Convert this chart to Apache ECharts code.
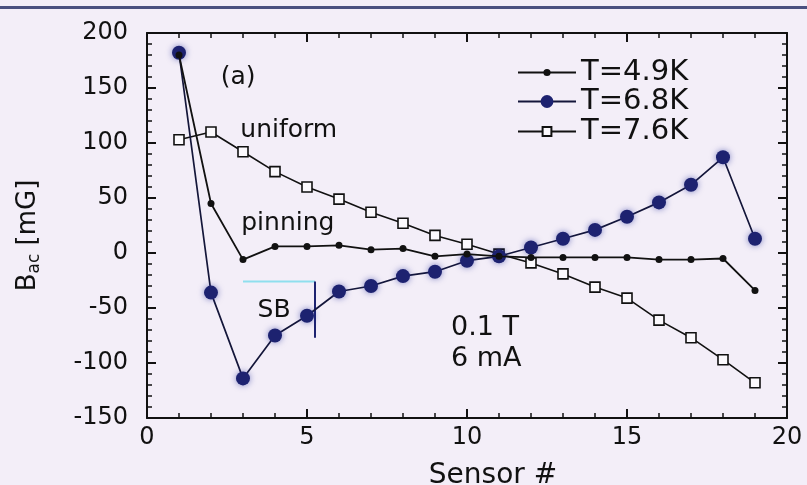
<!DOCTYPE html>
<html>
<head>
<meta charset="utf-8">
<script src="https://cdn.jsdelivr.net/npm/echarts@6/dist/echarts.min.js"></script>
<style>
  html, body { margin: 0; padding: 0; background: #f3eef8; }
  #chart { width: 807px; height: 485px; }
</style>
</head>
<body>
<div id="chart"></div>
<script>
// Sensor index along the sample
const sensors = [1, 2, 3, 4, 5, 6, 7, 8, 9, 10, 11, 12, 13, 14, 15, 16, 17, 18, 19];
// AC field profiles B_ac (mG) at three temperatures
const b49 = [180, 45, -6, 6, 6, 7, 3, 4, -3, -1, -3, -4, -4, -4, -4, -6, -6, -5, -34];
const b68 = [182, -36, -114, -75, -57, -35, -30, -21, -17, -7, -3, 5, 13, 21, 33, 46, 62, 87, 13];
const b76 = [103, 110, 92, 74, 60, 49, 37, 27, 16, 8, -1, -9, -19, -31, -41, -61, -77, -97, -118];
const seriesNames = ['T=4.9K', 'T=6.8K', 'T=7.6K'];
const yTicks = [-150, -100, -50, 0, 50, 100, 150, 200];
const xTicks = [0, 5, 10, 15, 20];

const pairs = ys => sensors.map((s, i) => [s, ys[i]]);
const FONT = 'DejaVu Sans';
const INK = '#111';

const chart = echarts.init(document.getElementById('chart'), null, { renderer: 'canvas' });

const axisCommon = {
  type: 'value',
  axisLine: { show: true, onZero: false, lineStyle: { color: INK, width: 2 } },
  axisTick: { show: true, inside: true, length: 9, lineStyle: { color: INK, width: 2 } },
  minorTick: { show: true, length: 5, lineStyle: { color: INK, width: 1.5 } },
  splitLine: { show: false }
};

// one legend block per series so each keeps its own marker size
const legendRow = (name, top, itemHeight) => ({
  data: [name],
  left: 517,
  top: top,
  padding: 0,
  itemWidth: 58,
  itemHeight: itemHeight,
  itemGap: 0,
  textStyle: { fontFamily: FONT, fontSize: 29, color: INK, lineHeight: 28 }
});

const option = {
  backgroundColor: '#f3eef8',
  animation: false,
  textStyle: { fontFamily: FONT },
  grid: { left: 147, right: 20, top: 33, bottom: 67, containLabel: false, outerBoundsMode: 'none' },
  legend: [
    legendRow(seriesNames[0], 58, 9),
    legendRow(seriesNames[1], 87, 16),
    legendRow(seriesNames[2], 117, 11)
  ],
  xAxis: [
    Object.assign({}, axisCommon, {
      position: 'bottom', min: xTicks[0], max: xTicks[xTicks.length - 1], interval: 5,
      minorTick: Object.assign({}, axisCommon.minorTick, { splitNumber: 5 }),
      axisLabel: { color: INK, fontSize: 24, fontFamily: FONT, margin: 8 },
      name: 'Sensor #', nameLocation: 'middle', nameGap: 44,
      nameTextStyle: { color: INK, fontSize: 28, fontFamily: FONT, padding: [0, 0, 0, 52] }
    }),
    Object.assign({}, axisCommon, {
      position: 'top', min: xTicks[0], max: xTicks[xTicks.length - 1], interval: 5,
      minorTick: Object.assign({}, axisCommon.minorTick, { splitNumber: 5 }),
      axisLabel: { show: false }
    })
  ],
  yAxis: [
    Object.assign({}, axisCommon, {
      position: 'left', min: yTicks[0], max: yTicks[yTicks.length - 1], interval: 50,
      minorTick: Object.assign({}, axisCommon.minorTick, { splitNumber: 5 }),
      axisLabel: { color: INK, fontSize: 24, fontFamily: FONT, margin: 19 },
      name: 'B{sub|ac} [mG]', nameLocation: 'middle', nameGap: 104, nameRotate: 90,
      nameTextStyle: {
        color: INK, fontSize: 26, fontFamily: FONT, padding: [0, 20, 0, 0],
        rich: { sub: { fontSize: 17, fontFamily: FONT, color: INK, verticalAlign: 'bottom', padding: [12, 0, 0, 0] } }
      }
    }),
    Object.assign({}, axisCommon, {
      position: 'right', min: yTicks[0], max: yTicks[yTicks.length - 1], interval: 50,
      minorTick: Object.assign({}, axisCommon.minorTick, { splitNumber: 5 }),
      axisLabel: { show: false }
    })
  ],
  series: [
    {
      name: seriesNames[2], type: 'line', data: pairs(b76), z: 3,
      symbol: 'rect', symbolSize: 10,
      lineStyle: { color: INK, width: 1.6 },
      itemStyle: { color: '#fbf9fd', borderColor: INK, borderWidth: 1.6 }
    },
    {
      name: seriesNames[1], type: 'line', data: pairs(b68), z: 4,
      symbol: 'circle', symbolSize: 14,
      lineStyle: { color: '#14163a', width: 1.7 },
      itemStyle: { color: '#1d2270', shadowBlur: 6, shadowColor: 'rgba(30,40,150,0.55)' }
    },
    {
      name: seriesNames[0], type: 'line', data: pairs(b49), z: 5,
      symbol: 'circle', symbolSize: 7,
      lineStyle: { color: INK, width: 1.8 },
      itemStyle: { color: INK }
    },
    {
      // "SB" bracket: cyan top edge
      type: 'line', data: [[3, -26], [5.25, -26]], symbol: 'none', silent: true, z: 2,
      lineStyle: { color: '#8fdfee', width: 2 }, tooltip: { show: false }
    },
    {
      // "SB" bracket: dark right edge
      type: 'line', data: [[5.25, -26], [5.25, -77]], symbol: 'none', silent: true, z: 2,
      lineStyle: { color: '#1d2270', width: 2 }, tooltip: { show: false }
    },
    {
      // centred text annotations placed in data coordinates
      type: 'scatter', symbolSize: 0, silent: true, z: 6,
      itemStyle: { opacity: 1 },
      label: {
        show: true, position: 'inside', color: INK, opacity: 1, fontFamily: FONT, fontSize: 25,
        formatter: p => p.data[2]
      },
      data: [
        [2.85, 160, '(a)'],
        [4.43, 111, 'uniform'],
        [4.4, 27, 'pinning'],
        [3.97, -52, 'SB']
      ]
    },
    {
      // left-aligned measurement conditions
      type: 'scatter', symbolSize: 0, silent: true, z: 6,
      itemStyle: { opacity: 1 },
      label: {
        show: true, position: 'inside', align: 'left', color: INK, opacity: 1, fontFamily: FONT, fontSize: 27,
        formatter: p => p.data[2]
      },
      data: [
        [9.5, -68, '0.1 T'],
        [9.5, -96, '6 mA']
      ]
    }
  ],
  graphic: [
    {
      type: 'rect', silent: true,
      shape: { x: 0, y: 6, width: 807, height: 3 },
      style: { fill: '#4a5080' }
    }
  ]
};

chart.setOption(option);
</script>
</body>
</html>
